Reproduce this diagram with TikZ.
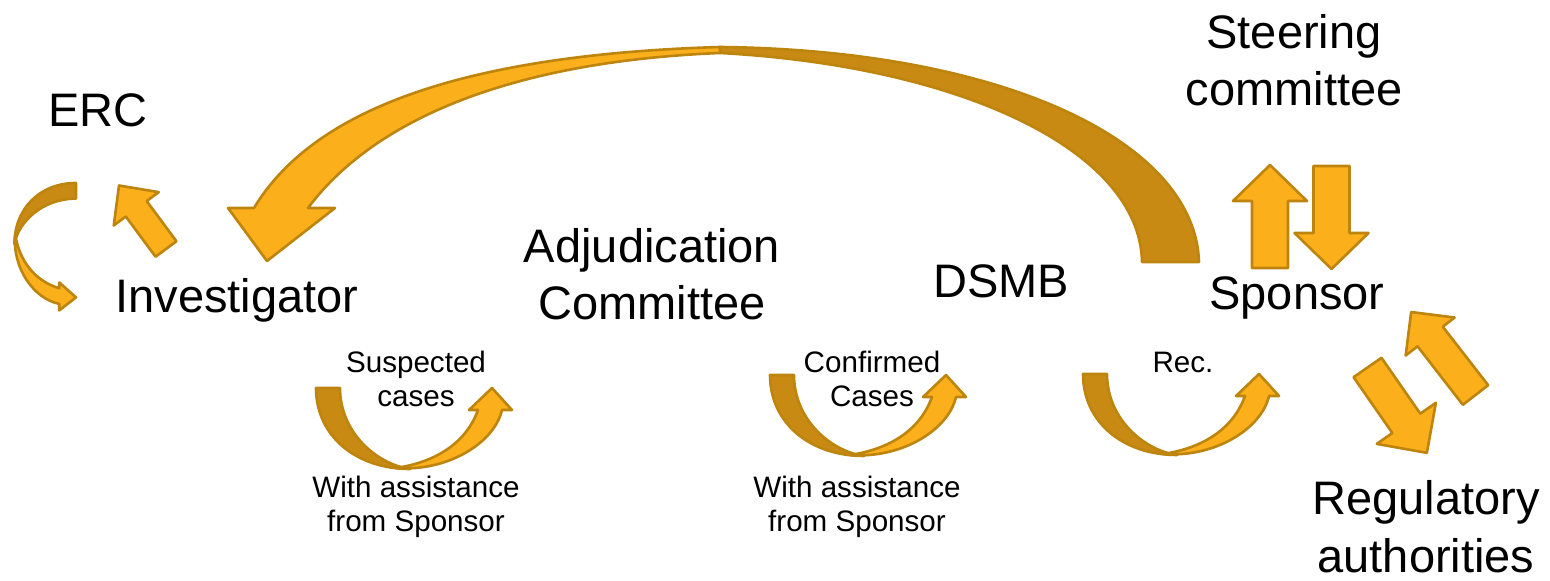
\documentclass[tikz,border=0pt]{standalone}
\usepackage{fontspec}
\setmainfont{Liberation Sans}

\definecolor{arrowlight}{HTML}{FBAF1B}
\definecolor{arrowdark}{HTML}{C98A13}
\definecolor{arrowedge}{HTML}{BD840E}

\tikzset{
  front/.style={fill=arrowlight, draw=arrowedge, line width=1.3pt, line join=round},
  back/.style={fill=arrowdark, draw=arrowedge, line width=1.3pt, line join=round},
  big/.style={font=\fontsize{23.5}{28.5}\selectfont, inner sep=0pt, align=center},
  small/.style={font=\fontsize{14.8}{17}\selectfont, inner sep=0pt, align=center}
}

% straight block arrow: tail, angle, length, half shaft, half head, head length
\newcommand{\blockarrow}[6]{
  \filldraw[front, shift={#1}, rotate=#2] (0,-#4) -- (#3-#6,-#4) -- (#3-#6,-#5) -- (#3,0)
    -- (#3-#6,#5) -- (#3-#6,#4) -- (0,#4) -- cycle;
}

% curved up arrow, origin at the outer corner of the tail
\newcommand{\curvedarrow}[1]{
  \begin{scope}[#1]
  \filldraw[back] (0,0) .. controls (0,48) and (40,81) .. (94,81)
    .. controls (60,76) and (24,44) .. (24,0) -- cycle;
  \filldraw[front] (80,80) .. controls (130,84) and (178,56) .. (186,22) -- (196,22) -- (176,0)
    -- (153,22) -- (162,22) .. controls (150,55) and (120,74) .. (80,80) -- cycle;
  \end{scope}
}

\begin{document}
\begin{tikzpicture}[x=0.5pt, y=-0.5pt]

\useasboundingbox (0,0) rectangle (1550,581);

% long arc from the sponsor back to the investigator
\filldraw[back] (1199,262) .. controls (1195,140) and (1000,50) .. (720,47)
  -- (720,53) .. controls (960,66) and (1140,150) .. (1142,262) -- cycle;
\filldraw[front] (720,47) .. controls (450,55) and (310,115) .. (254,208)
  -- (228,208) -- (267,261) -- (335,208) -- (308,208)
  .. controls (370,125) and (500,62) .. (720,53) -- cycle;

\curvedarrow{shift={(76,183)}, rotate=-90, xscale=0.65, yscale=0.76}
\curvedarrow{shift={(316,388)}}
\curvedarrow{shift={(770,375)}}
\curvedarrow{shift={(1083,374)}}

\blockarrow{(166,249)}{126.5}{79}{13}{28}{29}
\blockarrow{(1270,268)}{90}{103}{18}{37}{36}
\blockarrow{(1331.5,166)}{-90}{103}{18}{37}{36}
\blockarrow{(1475.5,395)}{127.8}{105}{16}{31}{31}
\blockarrow{(1367.5,367.5)}{-55.2}{104}{17}{36}{36}

% two-line labels sit on the baseline of their last line
\node[big, anchor=base] (erc) at (98,127) {ERC};
\node[big, anchor=base] (investigator) at (237,313) {Investigator};
\node[big, anchor=base] (adjudication) at (652,320) {Adjudication\\Committee};
\node[big, anchor=base] (dsmb) at (1001,298) {DSMB};
\node[big, anchor=base] (sponsor) at (1297,310) {Sponsor};
\node[big, anchor=base] (steering) at (1294,106) {Steering\\committee};
\node[big, anchor=base] (regulatory) at (1426,572) {Regulatory\\authorities};

\node[small, anchor=base] (suspected) at (416,407) {Suspected\\cases};
\node[small, anchor=base] (confirmed) at (872,407) {Confirmed\\Cases};
\node[small, anchor=base] (rec) at (1183,373) {Rec.};
\node[small, anchor=base] (assistA) at (416,531) {With assistance\\from Sponsor};
\node[small, anchor=base] (assistB) at (857,531) {With assistance\\from Sponsor};

\end{tikzpicture}
\end{document}
